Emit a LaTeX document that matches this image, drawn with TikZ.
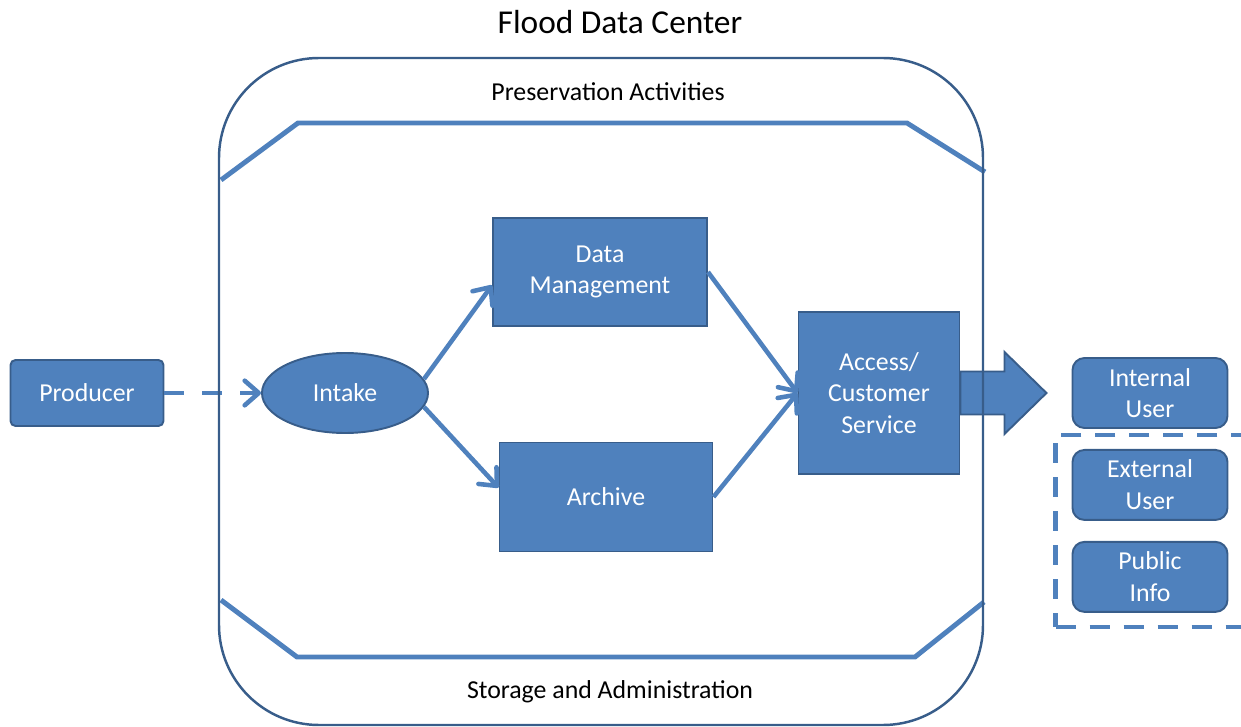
\documentclass[tikz,border=0pt]{standalone}
\usepackage{fontspec}
\setmainfont{Carlito}
\usepackage{tikz}
\usepackage{xcolor}
\usetikzlibrary{shapes.geometric,arrows.meta,positioning,fit}
\definecolor{fdcblue}{HTML}{4F81BD}
\definecolor{fdcedge}{HTML}{385D8A}
\tikzset{
  block/.style={ % image of a filled process block
    draw=fdcedge, fill=fdcblue, line width=1.1pt,
    text=white, align=center, inner sep=0pt,
    font=\fontsize{14.7}{18}\selectfont
  },
  proc/.style={ % square-cornered step inside the center
    block, rectangle, minimum width=42.8mm, minimum height=21.6mm
  },
  userbox/.style={ % image of a user outside the center
    block, rectangle, rounded corners=2.4mm,
    minimum width=31mm, minimum height=14mm
  },
  flow/.style={
    fdcblue, line width=2.6pt,
    -{Straight Barb[length=8pt,width=14pt,round]}
  },
  band/.style={fdcblue, line width=2.8pt},
  fdcframe/.style={fdcedge, line width=1.4pt, rounded corners=20mm},
  caption/.style={font=\fontsize{14.7}{18}\selectfont}
}

\begin{document}
\begin{tikzpicture}[x=0.2mm, y=-0.2mm]
  \useasboundingbox (0,0) rectangle (1241,727);

  \node[font=\fontsize{19}{23}\selectfont] (title) at (620,22) {Flood Data Center};
  \node[caption] (pres) at (608,92) {Preservation Activities};
  \node[caption] (stor) at (610,692) {Storage and Administration};

  % bands of the center
  \draw[band] (221,180) -- (298,123) -- (907,123) -- (985,172);
  \draw[band] (221,600) -- (297,657) -- (915,657) -- (984,602);

  \node[block, rounded corners=1mm, minimum width=30.6mm, minimum height=13.2mm] (prod) at (87,393) {Producer};
  \node[block, ellipse, minimum width=33.2mm, minimum height=16mm] (intake) at (345,393) {Intake};
  \node[proc] (dm) at (600,272) {Data\\Management};
  \node[proc, minimum width=42.6mm, minimum height=21.8mm] (arch) at (606,497) {Archive};
  \node[block, minimum width=32.2mm, minimum height=32.4mm] (acc) at (879,393) {Access/\\Customer\\Service};

  \node[userbox] (intu) at (1150,393) {Internal\\User};
  \node[userbox, below=4mm of intu] (extu) {External\\User};
  \node[userbox, below=4mm of extu] (pub) {Public\\Info};
  \node[draw=fdcblue, line width=2.6pt, dash pattern=on 4mm off 2.8mm,
        inner xsep=3.2mm, inner ysep=2.8mm, fit=(extu)(pub)] (grp) {};

  \draw[flow, dash pattern=on 4mm off 3.6mm] (prod) -- (intake);
  \draw[flow] (intake.10) -- (dm.187);
  \draw[flow] (intake.-10) -- (arch.175);
  \draw[flow] (dm.east) -- (acc.west);
  \draw[flow] (arch.east) -- (acc.west);

  \draw[block, shift={(acc.east)}] (0,-21.5) -- (44,-21.5) -- (44,-41) -- (86,0)
    -- (44,41) -- (44,21.5) -- (0,21.5) -- cycle;

  \draw[fdcframe] (219,58) rectangle (983,725);
\end{tikzpicture}
\end{document}
